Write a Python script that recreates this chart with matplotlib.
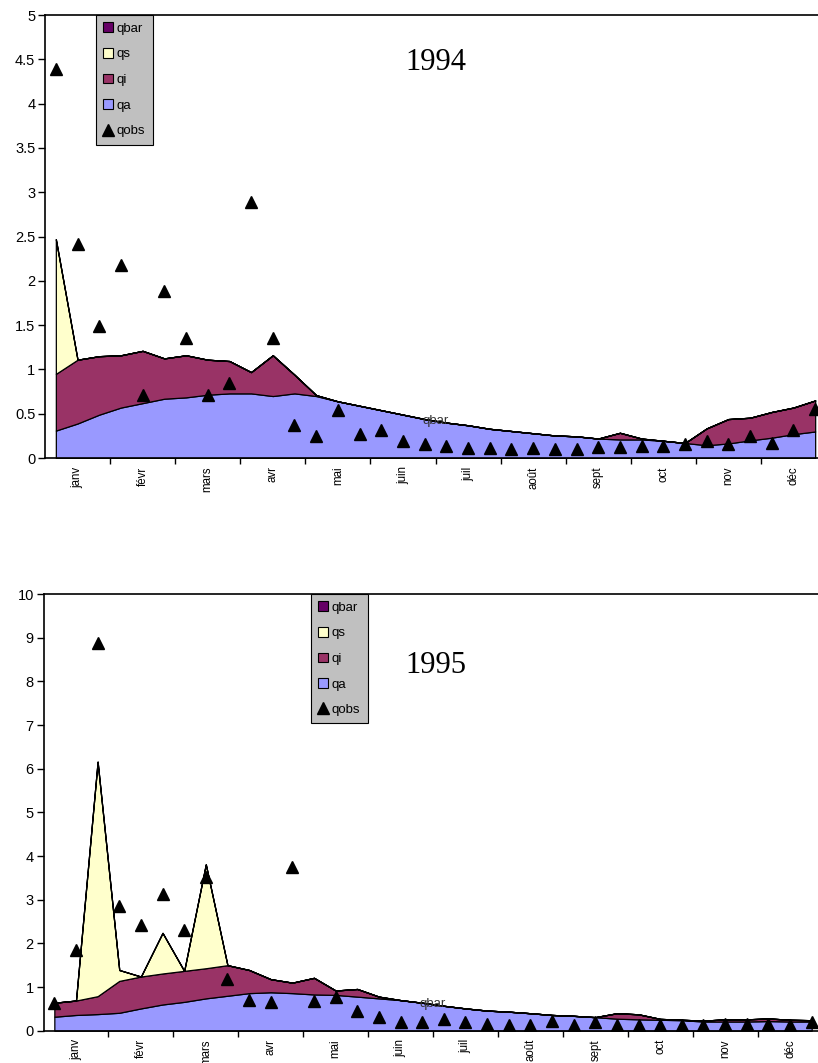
import numpy as np
import matplotlib
matplotlib.use("Agg")
import matplotlib.pyplot as plt
from matplotlib.patches import Patch
from matplotlib.lines import Line2D

plt.rcParams['font.family'] = ['Liberation Sans', 'DejaVu Sans']

# 36 dekads, month label on the middle dekad
months = ['janv', 'févr', 'mars', 'avr', 'mai', 'juin',
          'juil', 'août', 'sept', 'oct', 'nov', 'déc']

# --- 1994 ---
qa_94 = [0.31, 0.39, 0.49, 0.57, 0.62, 0.67, 0.685, 0.715, 0.73, 0.73, 0.70, 0.73,
         0.70, 0.64, 0.59, 0.54, 0.49, 0.44, 0.40, 0.37, 0.33, 0.305, 0.28, 0.255,
         0.245, 0.22, 0.21, 0.21, 0.195, 0.17, 0.145, 0.165, 0.20, 0.23, 0.27, 0.30]
qi_94 = [0.64, 0.72, 0.66, 0.59, 0.59, 0.455, 0.475, 0.395, 0.365, 0.24, 0.46, 0.21,
         0.01, 0, 0, 0, 0, 0, 0, 0, 0, 0, 0, 0,
         0, 0, 0.075, 0.01, 0, 0, 0.19, 0.275, 0.255, 0.29, 0.30, 0.35]
qs_94 = [1.52] + [0] * 35
qbar_94 = [0] * 36
qobs_94 = [4.39, 2.42, 1.49, 2.18, 0.71, 1.88, 1.35, 0.71, 0.85, 2.89, 1.35, 0.37,
           0.25, 0.54, 0.27, 0.32, 0.195, 0.155, 0.135, 0.11, 0.11, 0.10, 0.11, 0.10,
           0.10, 0.12, 0.12, 0.135, 0.135, 0.16, 0.19, 0.16, 0.25, 0.165, 0.32, 0.55]

# --- 1995 ---
qa_95 = [0.32, 0.36, 0.38, 0.41, 0.51, 0.60, 0.66, 0.74, 0.80, 0.86, 0.88, 0.86,
         0.83, 0.82, 0.78, 0.74, 0.70, 0.64, 0.57, 0.51, 0.46, 0.435, 0.40, 0.36,
         0.34, 0.31, 0.275, 0.26, 0.25, 0.24, 0.21, 0.21, 0.21, 0.22, 0.21, 0.21]
qi_95 = [0.32, 0.33, 0.41, 0.73, 0.73, 0.71, 0.71, 0.69, 0.70, 0.53, 0.30, 0.24,
         0.38, 0.10, 0.175, 0.04, 0, 0, 0, 0, 0, 0, 0, 0,
         0, 0, 0.125, 0.115, 0.02, 0.01, 0.02, 0.05, 0.05, 0.06, 0.04, 0.03]
qs_95 = [0, 0, 5.37, 0.25, 0, 0.93, 0, 2.38] + [0] * 28
qbar_95 = [0] * 36
qobs_95 = [0.64, 1.85, 8.87, 2.86, 2.42, 3.13, 2.31, 3.53, 1.18, 0.70, 0.66, 3.74,
           0.68, 0.76, 0.46, 0.31, 0.21, 0.21, 0.26, 0.21, 0.16, 0.14, 0.14, 0.23,
           0.14, 0.21, 0.14, 0.14, 0.13, 0.13, 0.13, 0.15, 0.15, 0.15, 0.13, 0.21]

colors = {'qa': '#9999FF', 'qi': '#993366', 'qs': '#FFFFCC', 'qbar': '#660066'}


def plot_year(ax, qa, qi, qs, qbar, qobs, year, ymax, ystep, leg_x, title_xy):
    x = np.arange(len(qa))
    ax.stackplot(x, qa, qi, qs, qbar,
                 colors=[colors['qa'], colors['qi'], colors['qs'], colors['qbar']],
                 edgecolor='black', linewidth=0.9)
    ax.plot(x, qobs, linestyle='none', marker='^', color='black', markersize=8.5)

    # series name label on qbar
    top = np.array(qa) + np.array(qi) + np.array(qs) + np.array(qbar)
    ax.text(17.5, (top[17] + top[18]) / 2, 'qbar', fontsize=9.5, color='#333333',
            ha='center', va='center')

    ax.text(title_xy[0], title_xy[1], year, transform=ax.transAxes,
            family='Liberation Serif', fontsize=22, va='center', ha='left')

    yt = np.arange(0, ymax + ystep / 2, ystep)
    ax.set_xlim(-0.5, 35.5)
    ax.set_ylim(0, ymax)
    ax.set_yticks(yt)
    ax.set_yticklabels([f"{v:g}" for v in yt])
    ax.set_xticks(np.arange(2.5, 36, 3))
    ax.set_xticklabels([])
    ax.set_xticks(np.arange(1, 36, 3), minor=True)
    ax.set_xticklabels(months, minor=True, rotation=90, fontsize=8.3)
    ax.tick_params(axis='x', which='major', direction='out', length=4, width=1)
    ax.tick_params(axis='x', which='minor', length=0, pad=6)
    ax.tick_params(axis='y', direction='out', length=5, width=1, labelsize=10.5, pad=2)
    for s in ax.spines.values():
        s.set_linewidth(1.2)

    handles = [Patch(facecolor=colors['qbar'], edgecolor='black', linewidth=0.8),
               Patch(facecolor=colors['qs'], edgecolor='black', linewidth=0.8),
               Patch(facecolor=colors['qi'], edgecolor='black', linewidth=0.8),
               Patch(facecolor=colors['qa'], edgecolor='black', linewidth=0.8),
               Line2D([], [], linestyle='none', marker='^', color='black', markersize=8)]
    leg = ax.legend(handles, ['qbar', 'qs', 'qi', 'qa', 'qobs'], loc='upper left',
                    bbox_to_anchor=(leg_x, 1.0), fontsize=9.5, handlelength=0.75,
                    handleheight=0.75, handletextpad=0.3, labelspacing=1.0,
                    borderpad=0.55, borderaxespad=0, fancybox=False, framealpha=1)
    leg.get_frame().set_facecolor('#C0C0C0')
    leg.get_frame().set_edgecolor('black')
    leg.get_frame().set_linewidth(0.8)


fig = plt.figure(figsize=(8.18, 10.63), dpi=100)
ax1 = fig.add_axes([0.0550, 0.5691, 0.9548, 0.4167])
ax2 = fig.add_axes([0.0532, 0.0304, 0.9523, 0.4108])

plot_year(ax1, qa_94, qi_94, qs_94, qbar_94, qobs_94, '1994', 5, 0.5,
          0.065, (0.461, 0.894))
plot_year(ax2, qa_95, qi_95, qs_95, qbar_95, qobs_95, '1995', 10, 1,
          0.343, (0.464, 0.837))

fig.savefig('out.png', dpi=100)
plt.close(fig)
